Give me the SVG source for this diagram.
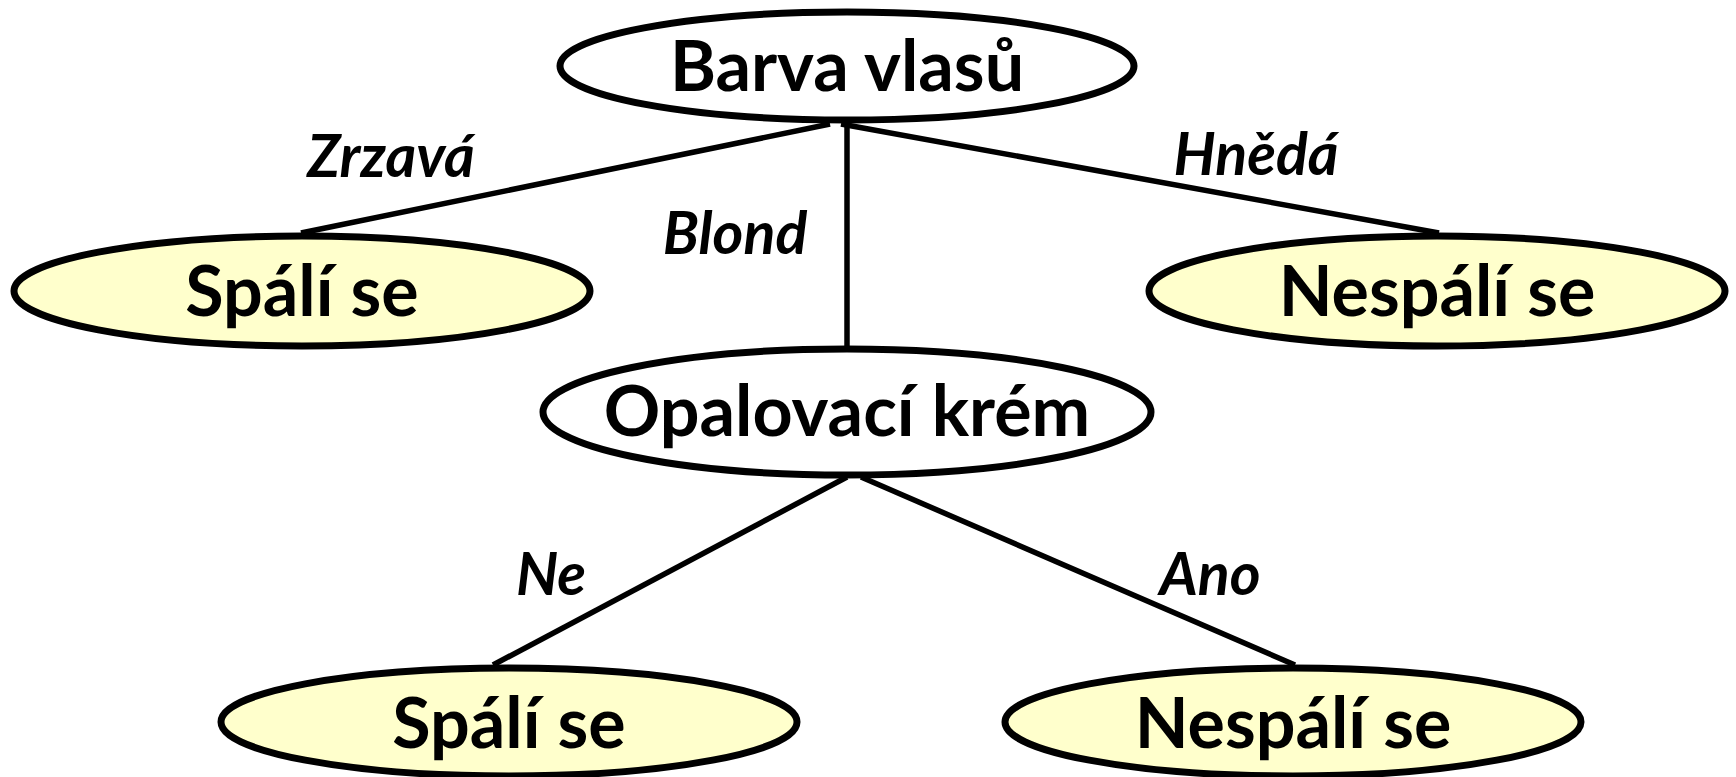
<svg xmlns="http://www.w3.org/2000/svg" width="1736" height="777" viewBox="0 0 1736 777">
  <style>
    .node { stroke: #000; stroke-width: 7; }
    .inner { fill: #ffffff; }
    .leaf { fill: #ffffcc; }
    .title { font-family: Lato, "Open Sans", sans-serif; font-weight: bold; font-size: 70px; fill: #000; text-anchor: middle; }
    .edge { font-family: Lato, "Open Sans", sans-serif; font-weight: bold; font-style: italic; font-size: 59px; fill: #000; text-anchor: middle; }
    .link { stroke: #000; stroke-width: 5.5; fill: none; }
  </style>

  <!-- connectors between the decision nodes -->
  <g id="connectors">
    <line class="link" x1="830" y1="124" x2="301" y2="233"/>
    <line class="link" x1="847" y1="124" x2="847" y2="346"/>
    <line class="link" x1="841" y1="124" x2="1439" y2="233"/>
    <line class="link" x1="847" y1="477" x2="493" y2="665"/>
    <line class="link" x1="861" y1="477" x2="1295" y2="665"/>
    <text class="edge" x="391" y="177">Zrzavá</text>
    <text class="edge" x="735" y="254">Blond</text>
    <text class="edge" x="1256" y="175">Hnědá</text>
    <text class="edge" x="551" y="595">Ne</text>
    <text class="edge" x="1210" y="595">Ano</text>
  </g>

  <g id="node-barva">
    <ellipse class="node inner" cx="847" cy="66" rx="287" ry="54"/>
    <text class="title" x="847" y="91">Barva vlasů</text>
  </g>

  <g id="node-spali-1">
    <ellipse class="node leaf" cx="302" cy="291" rx="288" ry="55"/>
    <text class="title" x="302" y="316">Spálí se</text>
  </g>

  <g id="node-nespali-1">
    <ellipse class="node leaf" cx="1437" cy="291" rx="288" ry="55"/>
    <text class="title" x="1437" y="316">Nespálí se</text>
  </g>

  <g id="node-opalovaci">
    <ellipse class="node inner" cx="847" cy="412" rx="304" ry="63"/>
    <text class="title" x="847" y="436">Opalovací krém</text>
  </g>

  <g id="node-spali-2">
    <ellipse class="node leaf" cx="509" cy="722" rx="288" ry="54"/>
    <text class="title" x="509" y="748">Spálí se</text>
  </g>

  <g id="node-nespali-2">
    <ellipse class="node leaf" cx="1293" cy="722" rx="288" ry="54"/>
    <text class="title" x="1293" y="748">Nespálí se</text>
  </g>
</svg>
